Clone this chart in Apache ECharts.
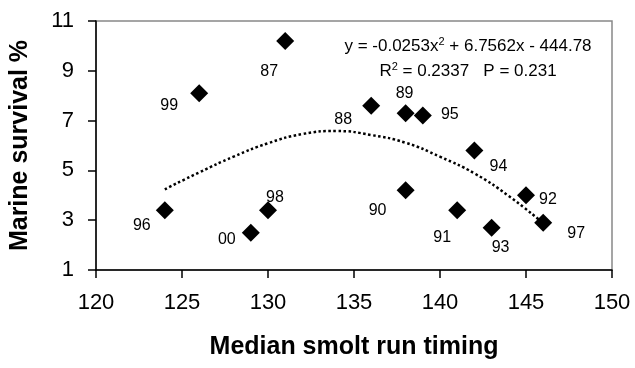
<!DOCTYPE html>
<html>
<head>
<meta charset="utf-8">
<script src="https://cdn.jsdelivr.net/npm/echarts@6/dist/echarts.min.js"></script>
<style>
  html, body { margin: 0; padding: 0; background: #fff; }
  #chart { width: 635px; height: 368px; }
</style>
</head>
<body>
<div id="chart"></div>
<script>
// brood years, median smolt run timing (day) and marine survival (%)
const years = ['87', '88', '89', '90', '91', '92', '93', '94', '95', '96', '97', '98', '99', '00'];
const timing = [131, 136, 138, 138, 141, 145, 143, 142, 139, 124, 146, 130, 126, 129];
const survival = [10.2, 7.6, 7.3, 4.2, 3.4, 4.0, 2.7, 5.8, 7.2, 3.4, 2.9, 3.4, 8.1, 2.5];

// dotted polynomial trend
const trendX = [124, 126, 128, 130, 132, 134, 136, 138, 140, 142, 144, 146];
const trendY = [4.24, 4.92, 5.55, 6.09, 6.46, 6.58, 6.42, 6.11, 5.55, 4.88, 3.97, 2.88];

const yTicks = [1, 3, 5, 7, 9, 11];

// where each year label sits relative to its marker
const labelOffsets = [
  [-16, 31], [-28, 14], [-1, -20], [-28, 20], [-15, 27], [22, 4], [9, 20],
  [24, 16], [27, -1], [-23, 15], [33, 11], [7, -13], [-30, 12], [-24, 7]
];

const FONT = 'Liberation Sans, Arial, sans-serif';

const chart = echarts.init(document.getElementById('chart'));

const points = years.map((y, i) => ({
  name: y,
  value: [timing[i], survival[i]],
  label: { offset: labelOffsets[i] }
}));

chart.setOption({
  animation: false,
  grid: {
    left: 96, right: 23, top: 21, bottom: 98,
    show: true,
    borderColor: '#888',
    borderWidth: 1.5
  },
  xAxis: {
    type: 'value',
    min: 120, max: 150, interval: 5,
    name: 'Median smolt run timing',
    nameLocation: 'middle',
    nameGap: 65,
    nameTextStyle: { fontFamily: FONT, fontSize: 25, fontWeight: 'bold', color: '#000' },
    axisLine: { lineStyle: { color: '#000', width: 1.5 } },
    axisTick: { length: 8, lineStyle: { color: '#000', width: 1.5 } },
    axisLabel: { fontFamily: FONT, fontSize: 22, color: '#000', margin: 22 },
    splitLine: { show: false }
  },
  yAxis: {
    type: 'value',
    min: 1, max: 11,
    name: 'Marine survival %',
    nameLocation: 'middle',
    nameGap: 63,
    nameTextStyle: { fontFamily: FONT, fontSize: 25, fontWeight: 'bold', color: '#000' },
    axisLine: { show: true, lineStyle: { color: '#000', width: 1.5 } },
    axisTick: { show: true, length: 8, customValues: yTicks, lineStyle: { color: '#000', width: 1.5 } },
    axisLabel: { fontFamily: FONT, fontSize: 22, color: '#000', margin: 22, customValues: yTicks },
    splitLine: { show: false }
  },
  series: [
    {
      type: 'line',
      data: trendX.map((x, i) => [x, trendY[i]]),
      smooth: true,
      symbol: 'none',
      lineStyle: { color: '#000', width: 2.5, type: [2.5, 2.5] },
      z: 2
    },
    {
      type: 'scatter',
      data: points,
      symbol: 'diamond',
      symbolSize: 18,
      itemStyle: { color: '#000', opacity: 1 },
      label: {
        show: true,
        position: 'inside',
        formatter: '{b}',
        fontFamily: FONT,
        fontSize: 16,
        color: '#000'
      },
      z: 3
    }
  ],
  graphic: [
    {
      type: 'text',
      x: 468, y: 46,
      style: {
        text: 'y = -0.0253x{sup|2} + 6.7562x - 444.78',
        fontFamily: FONT, fontSize: 17, fill: '#000',
        align: 'center', verticalAlign: 'middle',
        rich: { sup: { fontFamily: FONT, fontSize: 11, verticalAlign: 'top', padding: [0, 0, 8, 0] } }
      }
    },
    {
      type: 'text',
      x: 468, y: 71,
      style: {
        text: 'R{sup|2} = 0.2337   P = 0.231',
        fontFamily: FONT, fontSize: 17, fill: '#000',
        align: 'center', verticalAlign: 'middle',
        rich: { sup: { fontFamily: FONT, fontSize: 11, verticalAlign: 'top', padding: [0, 0, 8, 0] } }
      }
    }
  ]
});
</script>
</body>
</html>
